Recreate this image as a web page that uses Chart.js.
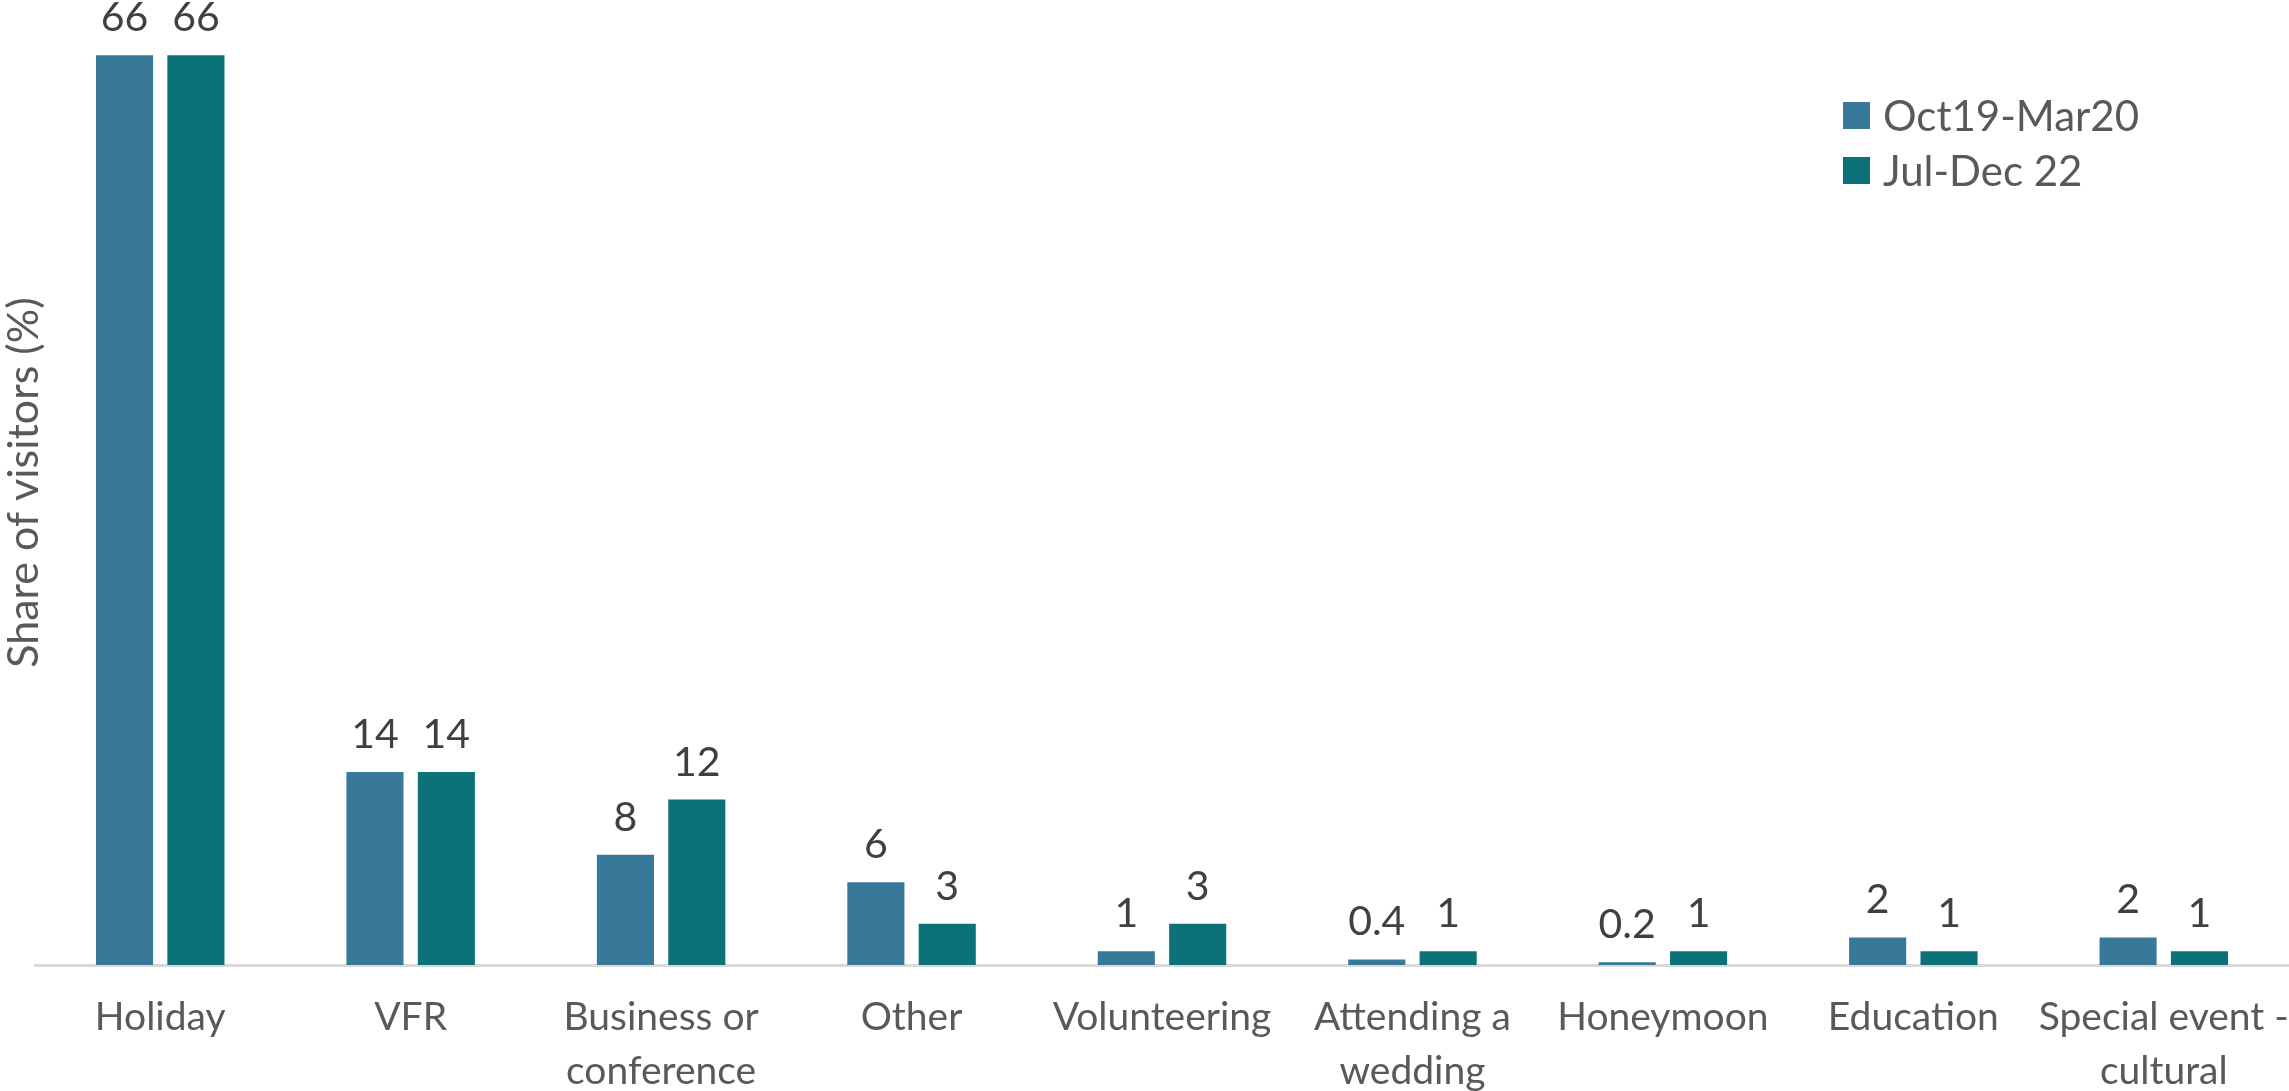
<!DOCTYPE html>
<html>
<head>
<meta charset="utf-8">
<title>Purpose of visit</title>
<script src="https://cdn.jsdelivr.net/npm/chart.js@4.4.1/dist/chart.umd.min.js"></script>
<style>
  html, body { margin: 0; padding: 0; background: #fff; }
  #wrap { position: relative; width: 2289px; height: 1091px; }
</style>
</head>
<body>
<div id="wrap"><canvas id="purposeChart"></canvas></div>
<script>
// visit purpose, share of visitors (%)
const categories = [
  "Holiday", "VFR", ["Business or", "conference"], "Other", "Volunteering",
  ["Attending a", "wedding"], "Honeymoon", "Education", ["Special event -", "cultural"]
];
const seriesNames = ["Oct19-Mar20", "Jul-Dec 22"];
const oct19Mar20 = [66, 14, 8, 6, 1, 0.4, 0.2, 2, 2];
const julDec22 = [66, 14, 12, 3, 3, 1, 1, 1, 1];
const barColors = ["#38799A", "#0C727A"];

const FONT = "Lato, 'Open Sans', sans-serif";

// value labels above each bar
const barLabels = {
  id: "barLabels",
  afterDatasetsDraw(chart) {
    const ctx = chart.ctx;
    ctx.save();
    ctx.font = `41px ${FONT}`;
    ctx.fillStyle = "#404040";
    ctx.textAlign = "center";
    ctx.textBaseline = "alphabetic";
    chart.data.datasets.forEach((ds, i) => {
      chart.getDatasetMeta(i).data.forEach((bar, j) => {
        ctx.fillText(String(ds.data[j]), bar.x, bar.y - 24);
      });
    });
    ctx.restore();
  }
};

// stacked legend in the upper right of the plot
const sideLegend = {
  id: "sideLegend",
  afterDraw(chart) {
    const ctx = chart.ctx;
    const x0 = chart.chartArea.right - 446;
    const y0 = chart.chartArea.top + 102;
    ctx.save();
    ctx.font = `42px ${FONT}`;
    ctx.textBaseline = "middle";
    ctx.textAlign = "left";
    chart.data.datasets.forEach((ds, i) => {
      const y = y0 + i * 55;
      ctx.fillStyle = ds.backgroundColor;
      ctx.fillRect(x0, y, 27, 27);
      ctx.fillStyle = "#595959";
      ctx.fillText(ds.label, x0 + 40, y + 15);
    });
    ctx.restore();
  }
};

const ctx = document.getElementById("purposeChart");
new Chart(ctx, {
  type: "bar",
  data: {
    labels: categories,
    datasets: [
      { label: seriesNames[0], data: oct19Mar20, backgroundColor: barColors[0] },
      { label: seriesNames[1], data: julDec22, backgroundColor: barColors[1] }
    ]
  },
  options: {
    responsive: true,
    maintainAspectRatio: false,
    animation: false,
    devicePixelRatio: 1,
    layout: { padding: 0 },
    datasets: { bar: { categoryPercentage: 0.57, barPercentage: 0.8 } },
    plugins: { legend: { display: false }, tooltip: { enabled: false } },
    scales: {
      x: {
        grid: { display: false, drawTicks: false },
        border: { display: true, color: "#D9D9D9", width: 3 },
        ticks: {
          color: "#595959",
          font: { family: FONT, size: 39, lineHeight: 1.4 },
          padding: 25,
          maxRotation: 0,
          autoSkip: false
        },
        // long labels may run past the edges, keep the plot full width
        afterFit(scale) {
          scale.height = 126;
          scale.paddingLeft = 0;
          scale.paddingRight = 0;
        }
      },
      y: {
        min: 0,
        max: 70,
        grid: { display: false, drawTicks: false },
        border: { display: false },
        ticks: { display: false },
        title: {
          display: true,
          text: "Share of visitors (%)",
          color: "#595959",
          font: { family: FONT, size: 43, lineHeight: 1 },
          padding: { top: 3, bottom: 0 }
        },
        afterFit(scale) {
          scale.width = 35;
        }
      }
    }
  },
  plugins: [barLabels, sideLegend]
});
</script>
</body>
</html>
